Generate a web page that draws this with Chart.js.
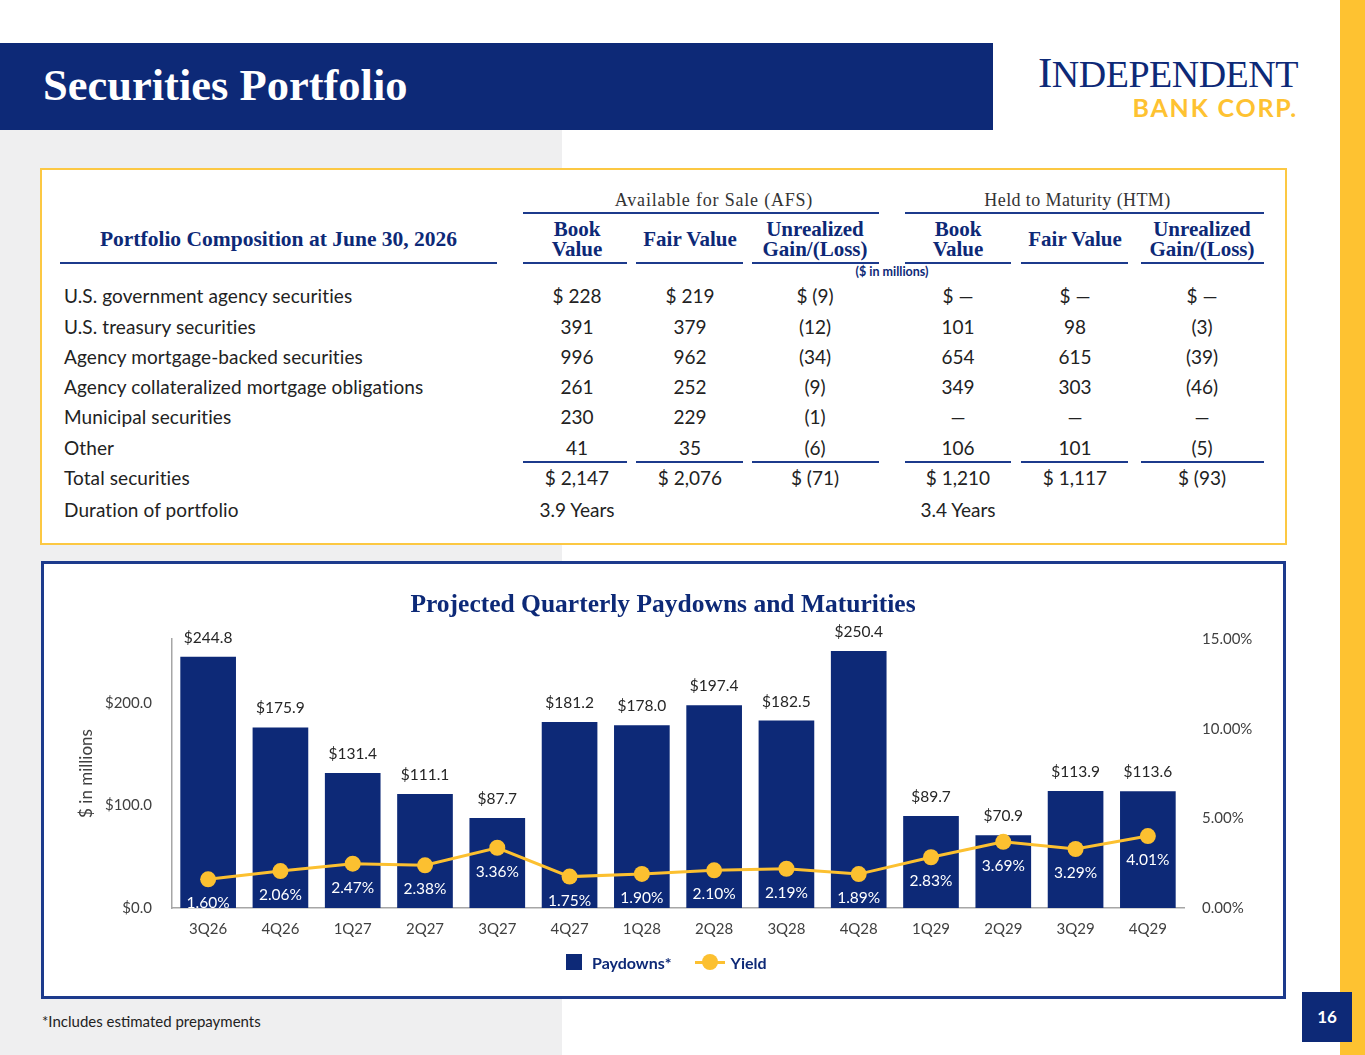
<!DOCTYPE html>
<html>
<head>
<meta charset="utf-8">
<script src="https://cdn.jsdelivr.net/npm/chart.js@4.4.1/dist/chart.umd.min.js"></script>
<style>
body { margin: 0; width: 1365px; height: 1055px; position: relative; overflow: hidden; background: #fff; font-family: Lato, sans-serif; color: #222; }
.abs { position: absolute; }
.serif { font-family: "Liberation Serif", serif; }
.hline { position: absolute; height: 2px; background: #1c3a8c; }
.cell { position: absolute; width: 200px; text-align: center; font-size: 19px; line-height: 22px; color: #222; white-space: nowrap; }
.colhead { position: absolute; width: 160px; text-align: center; font-family: "Liberation Serif", serif; font-weight: bold; font-size: 21px; line-height: 20px; color: #0d2977; }
.rowlab { position: absolute; left: 64px; font-size: 19px; line-height: 22px; color: #222; white-space: nowrap; letter-spacing: 0.1px; }
</style>
</head>
<body>
<div class="abs" style="left:0;top:130px;width:562px;height:925px;background:#efeff0"></div>
<div class="abs" style="left:1340px;top:0;width:25px;height:1055px;background:#fec231"></div>
<div class="abs" style="left:0;top:43px;width:993px;height:87px;background:#0d2977"></div>
<div class="abs serif" style="left:43px;top:59px;font-size:44.5px;line-height:52px;font-weight:bold;color:#fff">Securities Portfolio</div>
<div class="abs serif" style="left:1034px;top:52px;width:264px;text-align:right;font-size:38px;line-height:42px;color:#0d2977;letter-spacing:-0.5px"><span style="font-size:43px">I</span>NDEPENDENT</div>
<div class="abs" style="left:1100px;top:92px;width:198px;text-align:right;font-size:25px;line-height:30px;font-weight:bold;color:#fec231;letter-spacing:1.8px">BANK CORP.</div>

<div id="tbl" class="abs" style="left:40px;top:168px;width:1243px;height:373px;border:2px solid #fcc843;background:#fff"></div>
<div id="tcontent" class="abs" style="left:0;top:0;width:1365px;height:560px"></div>

<div class="abs" style="left:41px;top:561px;width:1239px;height:432px;border:3px solid #1c3a8c;background:#fff">
  <canvas id="chart" width="1239" height="432"></canvas>
</div>
<div class="abs serif" style="left:313px;top:589px;width:700px;text-align:center;font-size:25.5px;line-height:30px;font-weight:bold;color:#0d2977">Projected Quarterly Paydowns and Maturities</div>
<div class="abs" style="left:566px;top:952px;height:20px;display:flex;align-items:center;font-size:16px;font-weight:bold;color:#0d2977">
  <span style="display:inline-block;width:16px;height:16px;background:#0d2977;margin-right:10px"></span>Paydowns*
  <span style="display:inline-block;position:relative;width:30px;height:16px;margin-left:23px;margin-right:6px">
    <span style="position:absolute;left:0;top:7px;width:30px;height:3px;background:#fcc030"></span>
    <span style="position:absolute;left:7px;top:0;width:16px;height:16px;border-radius:50%;background:#fcc030"></span>
  </span>Yield
</div>

<div class="abs" style="left:42px;top:1011px;font-size:15px;line-height:20px;color:#222">*Includes estimated prepayments</div>
<div class="abs" style="left:1302px;top:992px;width:50px;height:50px;background:#0d2977;color:#fff;font-weight:bold;font-size:17px;line-height:50px;text-align:center">16</div>

<script>
// ---- table data ----
var rowLabels = ['U.S. government agency securities', 'U.S. treasury securities', 'Agency mortgage-backed securities',
  'Agency collateralized mortgage obligations', 'Municipal securities', 'Other'];
var afsBook = [228, 391, 996, 261, 230, 41];
var afsFair = [219, 379, 962, 252, 229, 35];
var afsGain = [-9, -12, -34, -9, -1, -6];
var htmBook = [null, 101, 654, 349, null, 106];
var htmFair = [null, 98, 615, 303, null, 101];
var htmGain = [null, -3, -39, -46, null, -5];
var totals = [2147, 2076, -71, 1210, 1117, -93];
var durations = ['3.9 Years', '3.4 Years'];

// ---- chart data ----
var quarters = ['3Q26', '4Q26', '1Q27', '2Q27', '3Q27', '4Q27', '1Q28', '2Q28', '3Q28', '4Q28', '1Q29', '2Q29', '3Q29', '4Q29'];
var paydowns = [244.8, 175.9, 131.4, 111.1, 87.7, 181.2, 178.0, 197.4, 182.5, 250.4, 89.7, 70.9, 113.9, 113.6];
var yields = [1.60, 2.06, 2.47, 2.38, 3.36, 1.75, 1.90, 2.10, 2.19, 1.89, 2.83, 3.69, 3.29, 4.01];

var navy = '#0d2977';
var gold = '#fcc030';

// table layout
var t = document.getElementById('tcontent');
var colCenter = [577, 690, 815, 958, 1075, 1202];
var colLine = [[523, 627], [636, 743], [752, 879], [905, 1011], [1021, 1128], [1141, 1264]];
var rowY = [296, 327, 357, 387, 417, 448];
var columns = [afsBook, afsFair, afsGain, htmBook, htmFair, htmGain];

function add(cls, html, style) {
  var d = document.createElement('div');
  d.className = cls;
  d.innerHTML = html;
  d.setAttribute('style', style);
  t.appendChild(d);
  return d;
}
function fmt(v, dollar) {
  var s = v == null ? '—' : (v < 0 ? '(' + Math.abs(v).toLocaleString('en-US') + ')' : v.toLocaleString('en-US'));
  return dollar ? '$ ' + s : s;
}

add('abs serif', 'Portfolio Composition at June 30, 2026', 'left:30px;top:227px;width:497px;text-align:center;font-weight:bold;font-size:21.5px;line-height:24px;color:#0d2977');
add('hline', '', 'left:60px;top:262px;width:437px');
add('abs serif', 'Available for Sale (AFS)', 'left:516px;top:189px;width:396px;text-align:center;font-size:18px;line-height:22px;color:#333;letter-spacing:0.8px');
add('abs serif', 'Held to Maturity (HTM)', 'left:878px;top:189px;width:399px;text-align:center;font-size:18px;line-height:22px;color:#333;letter-spacing:0.4px');
add('hline', '', 'left:523px;top:212px;width:356px');
add('hline', '', 'left:905px;top:212px;width:359px');
var heads = ['Book<br>Value', 'Fair Value', 'Unrealized<br>Gain/(Loss)', 'Book<br>Value', 'Fair Value', 'Unrealized<br>Gain/(Loss)'];
heads.forEach(function (h, i) {
  var twoLine = h.indexOf('<br>') >= 0;
  add('colhead', h, 'left:' + (colCenter[i] - 80) + 'px;top:' + (twoLine ? 219 : 229) + 'px');
  add('hline', '', 'left:' + colLine[i][0] + 'px;top:262px;width:' + (colLine[i][1] - colLine[i][0]) + 'px');
  add('hline', '', 'left:' + colLine[i][0] + 'px;top:461px;width:' + (colLine[i][1] - colLine[i][0]) + 'px');
});
add('abs', '($ in millions)', 'left:842px;top:265px;width:100px;text-align:center;font-size:12.5px;line-height:14px;font-weight:bold;color:#0d2977');

rowLabels.forEach(function (lab, r) {
  add('rowlab', lab, 'top:' + (rowY[r] - 11) + 'px');
  columns.forEach(function (col, c) {
    add('cell', fmt(col[r], r === 0), 'left:' + (colCenter[c] - 100) + 'px;top:' + (rowY[r] - 11) + 'px');
  });
});
add('rowlab', 'Total securities', 'top:467px');
totals.forEach(function (v, c) {
  add('cell', fmt(v, true), 'left:' + (colCenter[c] - 100) + 'px;top:467px');
});
add('rowlab', 'Duration of portfolio', 'top:499px');
add('cell', durations[0], 'left:' + (colCenter[0] - 100) + 'px;top:499px');
add('cell', durations[1], 'left:' + (colCenter[3] - 100) + 'px;top:499px');

// labels above bars and under yield points
var valueLabels = {
  id: 'valueLabels',
  afterDatasetsDraw: function (chart) {
    var c = chart.ctx;
    c.save();
    c.textAlign = 'center';
    c.textBaseline = 'middle';
    c.font = '15.5px Lato';
    c.fillStyle = '#262626';
    chart.getDatasetMeta(1).data.forEach(function (el, i) {
      c.fillText('$' + paydowns[i].toFixed(1), el.x, el.y - 19);
    });
    c.fillStyle = '#ffffff';
    chart.getDatasetMeta(0).data.forEach(function (el, i) {
      c.fillText(yields[i].toFixed(2) + '%', el.x, el.y + 24);
    });
    c.restore();
  }
};

var tickFont = { family: 'Lato', size: 15 };
new Chart(document.getElementById('chart').getContext('2d'), {
  type: 'bar',
  data: {
    labels: quarters,
    datasets: [{
      type: 'line',
      label: 'Yield',
      data: yields,
      yAxisID: 'y1',
      borderColor: gold,
      backgroundColor: gold,
      borderWidth: 3,
      pointRadius: 8,
      pointBorderWidth: 0,
      pointBackgroundColor: gold,
      tension: 0,
      order: 0
    }, {
      type: 'bar',
      label: 'Paydowns*',
      data: paydowns,
      yAxisID: 'y',
      backgroundColor: navy,
      barPercentage: 0.77,
      categoryPercentage: 1,
      order: 1
    }]
  },
  options: {
    responsive: false,
    animation: false,
    devicePixelRatio: 1,
    layout: { padding: { top: 75, bottom: 58, left: 0, right: 0 } },
    plugins: { legend: { display: false }, tooltip: { enabled: false } },
    scales: {
      x: {
        grid: { display: false, drawTicks: false },
        border: { color: '#a6a6a6', width: 1.5 },
        ticks: { padding: 12, color: '#404040', font: tickFont },
        afterFit: function (s) { s.height = 30; }
      },
      y: {
        position: 'left',
        min: 0,
        max: 262,
        grid: { display: false, drawTicks: false },
        border: { color: '#a6a6a6', width: 1.5 },
        ticks: {
          stepSize: 100, includeBounds: false, padding: 20, color: '#404040', font: tickFont,
          callback: function (v) { return '$' + v.toFixed(1); }
        },
        title: { display: true, text: '$ in millions', color: '#404040', font: { family: 'Lato', size: 17 }, padding: { top: 32, bottom: 0 } },
        afterFit: function (s) { s.width = 128; }
      },
      y1: {
        position: 'right',
        min: 0,
        max: 15,
        grid: { display: false, drawTicks: false },
        border: { display: false },
        ticks: {
          stepSize: 5, padding: 18, color: '#404040', font: tickFont,
          callback: function (v) { return v.toFixed(2) + '%'; }
        },
        afterFit: function (s) { s.width = 99; }
      }
    }
  },
  plugins: [valueLabels]
});
</script>
</body>
</html>
